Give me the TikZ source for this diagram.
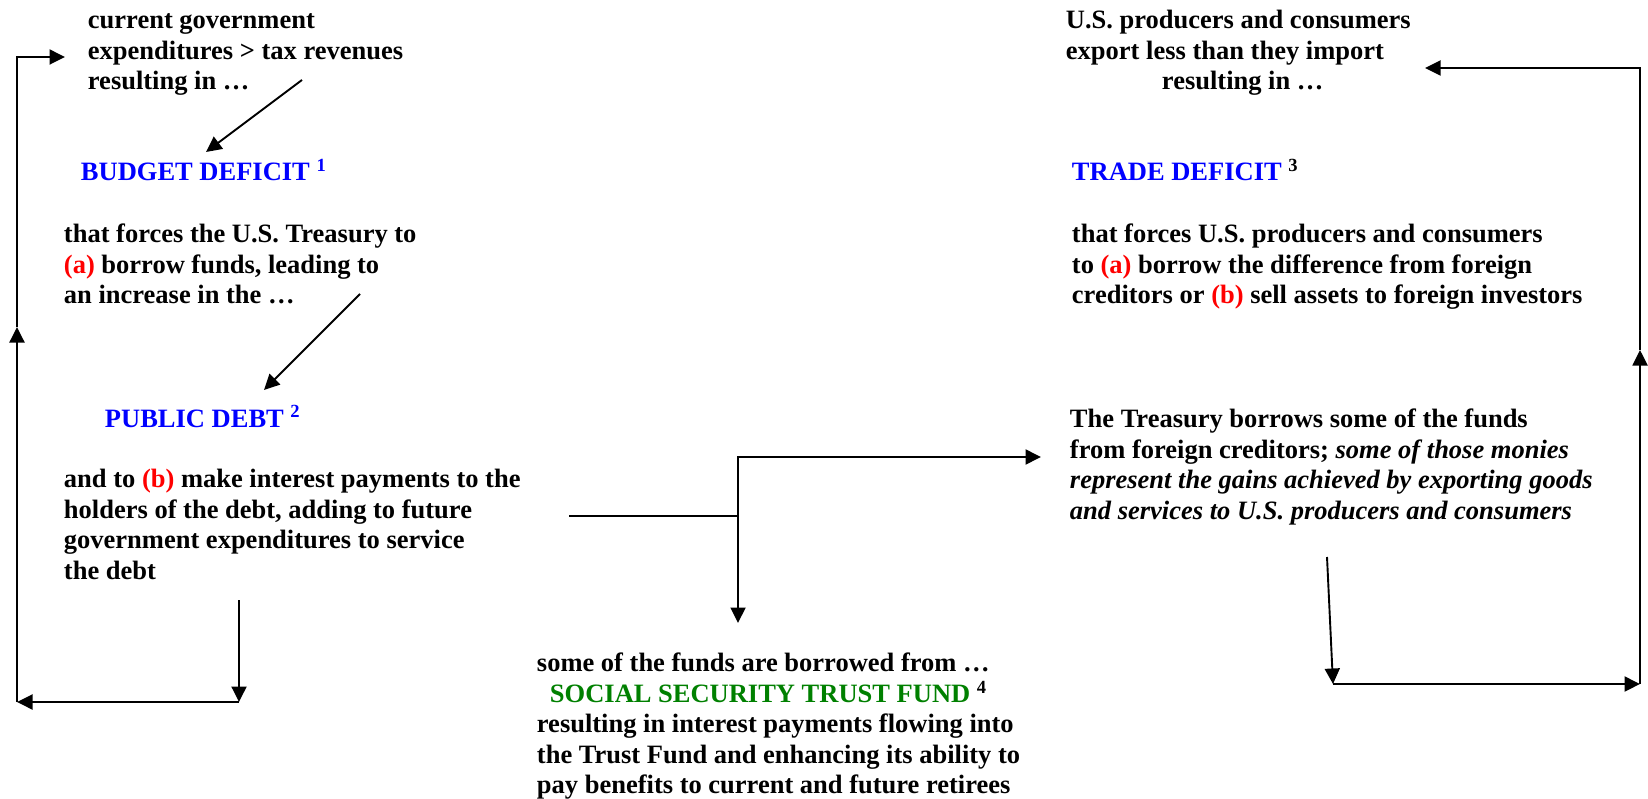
\documentclass[tikz,border=0pt]{standalone}
\usepackage{fontspec}
\setmainfont{Liberation Serif}
\usetikzlibrary{arrows.meta}
\definecolor{dblue}{RGB}{0,0,255}
\definecolor{dred}{RGB}{255,0,0}
\definecolor{dgreen}{RGB}{0,128,0}
\newcommand{\rA}{\textcolor{dred}{(a)}}
\newcommand{\rB}{\textcolor{dred}{(b)}}
\begin{document}
\begin{tikzpicture}[x=1pt,y=-1pt,line width=1.9pt,
  txt/.style={inner sep=0pt,anchor=north west,align=left,font=\fontsize{26.5}{30.4}\selectfont\bfseries},
  ttl/.style={inner sep=0pt,anchor=base west,font=\fontsize{26.5}{30.4}\selectfont\bfseries},
  arr/.style={-{Triangle[length=15.5pt,width=15pt]}}]
\path[use as bounding box] (0,0) rectangle (1648,799);

% text blocks
\node[txt] (cg) at (87,6.7) {\strut current government\\expenditures > tax revenues\\resulting in …};
\node[ttl,text=dblue] (bd) at (80,181) {BUDGET DEFICIT \textsuperscript{1}};
\node[txt] (ft) at (63,220.7) {\strut that forces the U.S. Treasury to\\\rA{} borrow funds, leading to\\an increase in the …};
\node[ttl,text=dblue] (pd) at (104,427) {PUBLIC DEBT \textsuperscript{2}};
\node[txt] (ip) at (63,465.7) {\strut and to \rB{} make interest payments to the\\holders of the debt, adding to future\\government expenditures to service\\the debt};
\node[txt] (ss) at (536,649.7) {\strut some of the funds are borrowed from …\\\hspace*{13pt}\textcolor{dgreen}{SOCIAL SECURITY TRUST FUND} \textsuperscript{4}\\resulting in interest payments flowing into\\the Trust Fund and enhancing its ability to\\pay benefits to current and future retirees};
\node[txt] (us) at (1065,6.7) {\strut U.S. producers and consumers\\export less than they import\\\hspace*{96pt}resulting in …};
\node[ttl,text=dblue] (td) at (1071,181) {TRADE DEFICIT \textcolor{black}{\textsuperscript{3}}};
\node[txt] (fr) at (1071,220.7) {\strut that forces U.S. producers and consumers\\to \rA{} borrow the difference from foreign\\creditors or \rB{} sell assets to foreign investors};
\node[txt] (tr) at (1069,405.7) {\strut The Treasury borrows some of the funds\\from foreign creditors; \textit{some of those monies}\\\textit{represent the gains achieved by exporting goods}\\\textit{and services to U.S. producers and consumers}};

% connector points
\coordinate (a1s) at (302,80);   \coordinate (a1e) at (206,152);
\coordinate (a2s) at (360,294);  \coordinate (a2e) at (264,390);
\coordinate (l1) at (239,600);   \coordinate (l2) at (239,702);
\coordinate (l3) at (17,702);    \coordinate (l4) at (17,327);
\coordinate (l5) at (17,57);     \coordinate (l6) at (65,57);
\coordinate (m1) at (569,516);   \coordinate (m2) at (738,516);
\coordinate (m3) at (738,623);   \coordinate (m4) at (738,457);
\coordinate (m5) at (1041,457);
\coordinate (r1) at (1327,557);  \coordinate (r2) at (1333,684);
\coordinate (r3) at (1640,684);  \coordinate (r4) at (1640,350);
\coordinate (r5) at (1640,68);   \coordinate (r6) at (1425,68);

% left loop
\draw[arr] (a1s) -- (a1e);
\draw[arr] (a2s) -- (a2e);
\draw[arr] (l1) -- (l2);
\draw[arr] (l2) -- (l3);
\draw[arr] (l3) -- (l4);
\draw[arr] (l4) -- (l5) -- (l6);
% middle
\draw (m1) -- (m2);
\draw[arr] (m2) -- (m3);
\draw[arr] (m2) -- (m4) -- (m5);
% right loop
\draw[arr] (r1) -- (r2);
\draw[arr] (r2) -- (r3);
\draw[arr] (r3) -- (r4);
\draw[arr] (r4) -- (r5) -- (r6);
\end{tikzpicture}
\end{document}
